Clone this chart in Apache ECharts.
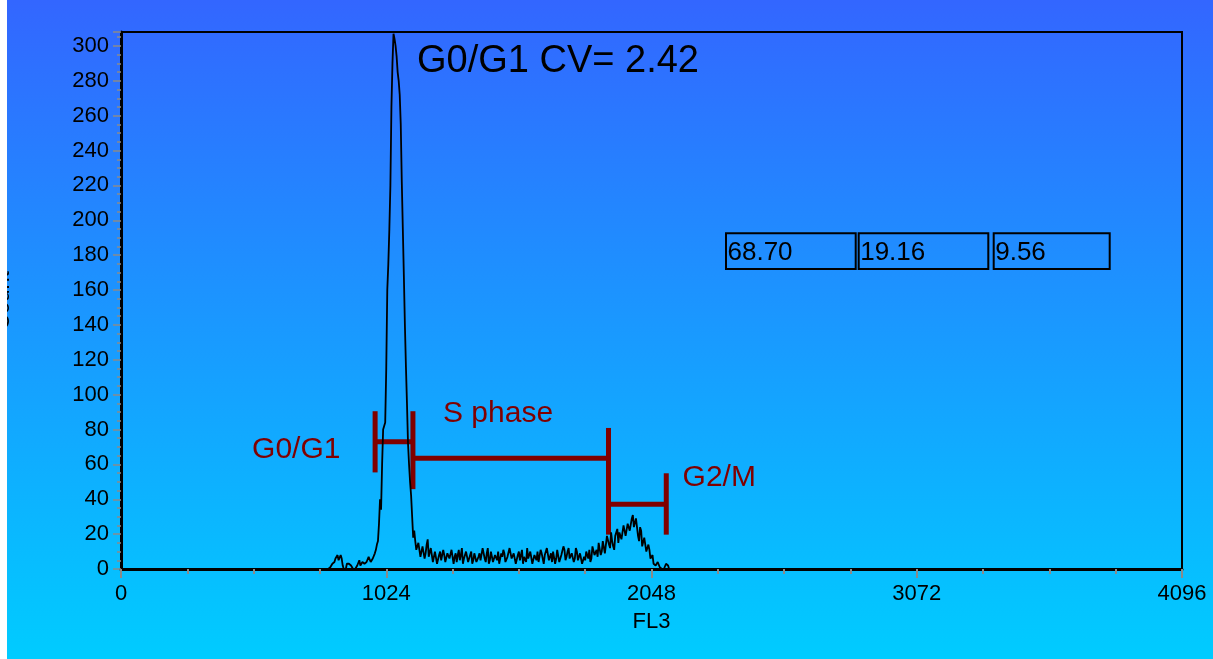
<!DOCTYPE html>
<html>
<head>
<meta charset="utf-8">
<script src="https://cdn.jsdelivr.net/npm/echarts@6/dist/echarts.min.js"></script>
<style>
  html, body { margin: 0; padding: 0; background: #ffffff; }
  #chart { position: absolute; left: 7px; top: 0; width: 1206px; height: 659px; }
</style>
</head>
<body>
<div id="chart"></div>
<script>
// ---- data ----
const binStart = 800;      // FL3 channel of first bin
const binWidth = 4;        // FL3 channels per bin
const counts = [
  0, 0, 1, 2, 3, 4, 4, 6, 7, 8, 5, 4, 8, 6, 2, 0, 0, 0, 3, 2,
  3, 3, 2, 1, 0, 0, 0, 1, 2, 3, 5, 2, 2, 4, 5, 3, 3, 4, 5, 7,
  7, 4, 4, 6, 7, 9, 11, 14, 16, 26, 40, 34, 60, 80, 82, 84, 115, 160, 175, 195,
  220, 265, 290, 307, 304, 300, 294, 285, 280, 272, 255, 222, 195, 168, 140, 116, 95, 72, 60, 50,
  42, 30, 18, 22, 16, 11, 10, 15, 14, 7, 8, 13, 12, 6, 9, 14, 17, 7, 8, 12,
  11, 4, 5, 10, 9, 3, 4, 8, 10, 5, 6, 11, 8, 4, 3, 9, 9, 6, 5, 11,
  10, 3, 7, 9, 4, 8, 11, 5, 8, 12, 3, 6, 7, 10, 9, 4, 4, 8, 10, 3,
  5, 9, 8, 4, 3, 7, 9, 5, 6, 12, 11, 6, 4, 9, 12, 3, 5, 10, 7, 4,
  3, 8, 8, 5, 10, 3, 4, 9, 7, 11, 9, 4, 3, 7, 8, 12, 11, 6, 5, 9,
  9, 3, 4, 8, 10, 5, 6, 11, 3, 7, 8, 4, 12, 6, 5, 10, 9, 3, 4, 8,
  7, 5, 10, 4, 5, 11, 9, 6, 3, 8, 8, 12, 11, 5, 6, 9, 4, 10, 9, 3,
  6, 11, 10, 4, 4, 8, 8, 13, 11, 5, 7, 10, 12, 6, 5, 9, 9, 4, 6, 12,
  10, 5, 4, 9, 8, 3, 3, 7, 5, 10, 9, 6, 11, 4, 6, 13, 12, 8, 8, 11,
  7, 15, 14, 8, 10, 16, 17, 9, 9, 19, 20, 14, 12, 21, 16, 13, 11, 19, 18, 23,
  15, 21, 22, 17, 18, 25, 24, 19, 20, 26, 27, 22, 23, 29, 31, 24, 25, 29, 28, 19,
  16, 24, 22, 13, 12, 18, 17, 10, 9, 14, 11, 6, 5, 8, 3, 2, 2, 1, 4, 3,
  1, 0, 0, 0, 0, 1, 3, 4, 2, 0, 0
];
const xTicks = [0, 1024, 2048, 3072, 4096];
const xName = 'FL3';
const yName = 'Count';
const titleText = 'G0/G1 CV= 2.42';
const boxValues = ['68.70', '19.16', '9.56'];
// phase gate brackets in data units: [x1, y1, x2, y2]
const gateSegments = [
  [981, 90.5, 981, 55.4],
  [981, 73.0, 1127, 73.0],
  [1127, 90.5, 1127, 45.8],
  [1127, 63.5, 1882, 63.5],
  [1882, 80.9, 1882, 19.7],
  [1882, 37.1, 2105, 37.1],
  [2105, 54.9, 2105, 19.7]
];
const phaseLabels = ['G0/G1', 'S phase', 'G2/M'];
const phaseLabelPos = [[506, 68.3], [1243, 88.9], [2168, 52.2]];

// ---- chart ----
const FONT = 'Liberation Sans, Arial, Helvetica, sans-serif';
const histData = counts.map((c, i) => [binStart + i * binWidth, c]);
const chart = echarts.init(document.getElementById('chart'), null, { renderer: 'canvas' });

const boxLayout = [
  { x: 719, w: 129.7 },
  { x: 851.7, w: 129.6 },
  { x: 986.7, w: 116 }
];
const graphics = [
  {
    type: 'text', x: 410, y: 62, z: 10,
    style: { text: titleText, fontSize: 38, fontFamily: FONT, fill: '#000', align: 'left', verticalAlign: 'middle' }
  }
];
boxValues.forEach((v, i) => {
  graphics.push({
    type: 'rect', z: 10,
    shape: { x: boxLayout[i].x, y: 233.3, width: boxLayout[i].w, height: 35.7 },
    style: { fill: 'transparent', stroke: '#000', lineWidth: 2 }
  });
  graphics.push({
    type: 'text', z: 11, x: boxLayout[i].x + 1.5, y: 252.8,
    style: { text: v, fontSize: 26, fontFamily: FONT, fill: '#000', align: 'left', verticalAlign: 'middle' }
  });
});

const option = {
  animation: false,
  backgroundColor: new echarts.graphic.LinearGradient(0, 0, 0, 1, [
    { offset: 0, color: '#3366FF' },
    { offset: 1, color: '#00CCFF' }
  ]),
  textStyle: { fontFamily: FONT },
  grid: {
    left: 114, right: 31, top: 32, bottom: 90,
    containLabel: false, outerBoundsMode: 'none',
    show: true, borderColor: '#000', borderWidth: 2, backgroundColor: 'transparent'
  },
  xAxis: {
    type: 'value', min: xTicks[0], max: xTicks[xTicks.length - 1], interval: xTicks[1] - xTicks[0],
    name: xName, nameLocation: 'middle', nameGap: 42,
    nameTextStyle: { fontSize: 22, color: '#000', fontFamily: FONT },
    axisLine: { onZero: false, lineStyle: { color: '#000', width: 3 } },
    axisTick: { show: true, length: 9, lineStyle: { color: '#8a8a8a', width: 2 } },
    minorTick: { show: true, splitNumber: 4, length: 5, lineStyle: { color: '#8a8a8a', width: 2 } },
    axisLabel: { fontSize: 22, color: '#000', margin: 14, fontFamily: FONT, formatter: v => String(v) },
    splitLine: { show: false }
  },
  yAxis: {
    type: 'value', min: 0, max: 308, interval: 20,
    name: yName, nameLocation: 'middle', nameGap: 107,
    nameTextStyle: { fontSize: 22, color: '#000', fontFamily: FONT },
    axisLine: { show: true, onZero: false, lineStyle: { color: '#000', width: 3 } },
    axisTick: { show: true, length: 8, lineStyle: { color: '#8a8a8a', width: 1.5 } },
    minorTick: { show: true, splitNumber: 4, length: 4, lineStyle: { color: '#8a8a8a', width: 1.5 } },
    axisLabel: { fontSize: 22, color: '#000', margin: 12, showMaxLabel: false, fontFamily: FONT, formatter: v => String(v) },
    splitLine: { show: false }
  },
  graphic: graphics,
  series: [
    {
      type: 'custom', name: 'gates', z: 3,
      encode: { x: [0, 2], y: [1, 3] },
      data: gateSegments,
      renderItem: function (params, api) {
        const p1 = api.coord([api.value(0), api.value(1)]);
        const p2 = api.coord([api.value(2), api.value(3)]);
        return {
          type: 'line',
          shape: { x1: p1[0], y1: p1[1], x2: p2[0], y2: p2[1] },
          style: { stroke: '#800000', lineWidth: 5, lineCap: 'butt' }
        };
      }
    },
    {
      type: 'custom', name: 'phaseLabels', z: 3,
      encode: { x: 0, y: 1 },
      data: phaseLabelPos,
      renderItem: function (params, api) {
        const p = api.coord([api.value(0), api.value(1)]);
        return {
          type: 'text', x: p[0], y: p[1],
          style: {
            text: phaseLabels[params.dataIndex], fontSize: 30, fontFamily: FONT,
            fill: '#800000', align: 'left', verticalAlign: 'middle'
          }
        };
      }
    },
    {
      type: 'line', name: 'Count', z: 5,
      data: histData,
      showSymbol: false, symbol: 'none', smooth: false, sampling: null,
      lineStyle: { color: '#000', width: 1.8 },
      clip: true
    }
  ]
};
chart.setOption(option);
</script>
</body>
</html>
